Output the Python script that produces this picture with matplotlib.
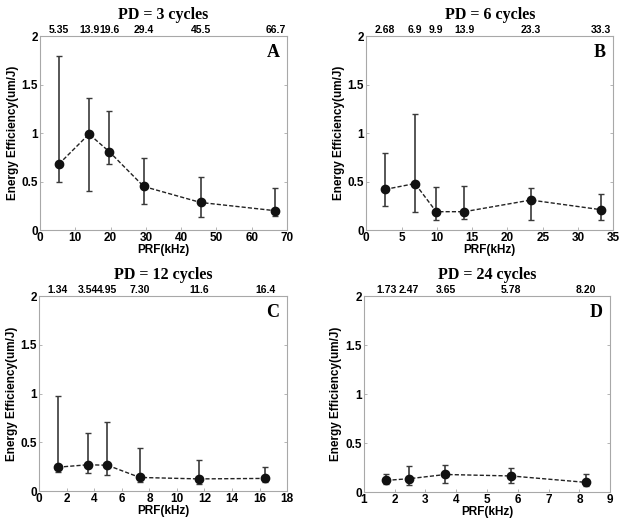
import matplotlib
matplotlib.use("Agg")
import matplotlib.pyplot as plt

# --- Data ---
titles = ["PD = 3 cycles", "PD = 6 cycles", "PD = 12 cycles", "PD = 24 cycles"]
letters = ["A", "B", "C", "D"]

prf_a = [5.35, 13.9, 19.6, 29.4, 45.5, 66.7]
eff_a = [0.68, 0.99, 0.81, 0.45, 0.285, 0.20]
low_a = [0.50, 0.40, 0.68, 0.27, 0.14, 0.15]
high_a = [1.79, 1.36, 1.23, 0.74, 0.55, 0.43]
top_a = ["5.35", "13.9", "19.6", "29.4", "45.5", "66.7"]

prf_b = [2.68, 6.9, 9.9, 13.9, 23.3, 33.3]
eff_b = [0.42, 0.48, 0.19, 0.19, 0.31, 0.21]
low_b = [0.25, 0.19, 0.10, 0.11, 0.10, 0.10]
high_b = [0.79, 1.20, 0.44, 0.45, 0.43, 0.37]
top_b = ["2.68", "6.9", "9.9", "13.9", "23.3", "33.3"]

prf_c = [1.34, 3.54, 4.95, 7.30, 11.6, 16.4]
eff_c = [0.245, 0.27, 0.265, 0.14, 0.125, 0.13]
low_c = [0.195, 0.19, 0.17, 0.09, 0.07, 0.09]
high_c = [0.97, 0.60, 0.705, 0.44, 0.32, 0.245]
top_c = ["1.34", "3.54", "4.95", "7.30", "11.6", "16.4"]

prf_d = [1.73, 2.47, 3.65, 5.78, 8.20]
eff_d = [0.12, 0.137, 0.18, 0.165, 0.10]
low_d = [0.08, 0.075, 0.095, 0.09, 0.065]
high_d = [0.18, 0.265, 0.275, 0.245, 0.19]
top_d = ["1.73", "2.47", "3.65", "5.78", "8.20"]

xlims = [(0, 70), (0, 35), (0, 18), (1, 9)]
xticks = [range(0, 71, 10), range(0, 36, 5), range(0, 19, 2), range(1, 10)]

# axes boxes in figure fraction: left, bottom, width, height
boxes = [
    [0.064, 0.560, 0.396, 0.371],
    [0.587, 0.560, 0.396, 0.371],
    [0.063, 0.061, 0.397, 0.373],
    [0.583, 0.059, 0.395, 0.375],
]

panels = [
    (prf_a, eff_a, low_a, high_a, top_a),
    (prf_b, eff_b, low_b, high_b, top_b),
    (prf_c, eff_c, low_c, high_c, top_c),
    (prf_d, eff_d, low_d, high_d, top_d),
]

sans = ["Liberation Sans", "DejaVu Sans"]
serif = ["Liberation Serif", "DejaVu Serif"]
spine_col = "#a8a8a8"

fig = plt.figure(figsize=(6.24, 5.23), dpi=100)

for i, (x, y, lo, hi, top_labels) in enumerate(panels):
    ax = fig.add_axes(boxes[i])
    yerr = [[v - l for v, l in zip(y, lo)], [h - v for v, h in zip(y, hi)]]
    ax.errorbar(x, y, yerr=yerr, fmt="none", ecolor="#3a3a3a", elinewidth=1.2,
                capsize=2.5, capthick=1.0, zorder=2)
    ax.plot(x, y, linestyle="--", color="#222222", linewidth=1.0, dashes=(3, 1.5),
            marker="o", markersize=6, markerfacecolor="#111111",
            markeredgecolor="#111111", zorder=3)

    ax.set_xlim(*xlims[i])
    ax.set_ylim(0, 2)
    ax.set_xticks(list(xticks[i]))
    ax.set_yticks([0, 0.5, 1, 1.5, 2])
    ax.set_yticklabels(["0", "0.5", "1", "1.5", "2"])
    ax.tick_params(direction="in", length=2.5, width=0.6, color=spine_col, pad=1.5,
                   labelsize=8.5, right=True)
    for lab in ax.get_xticklabels() + ax.get_yticklabels():
        lab.set_family(sans)
        lab.set_fontweight("bold")
    for sp in ax.spines.values():
        sp.set_color(spine_col)
        sp.set_linewidth(0.8)

    ax.set_xlabel("PRF(kHz)", fontsize=8.5, fontweight="bold", family=sans, labelpad=0)
    ax.set_ylabel("Energy Efficiency(um/J)", fontsize=8.5, fontweight="bold",
                  family=sans, labelpad=2)

    # top axis with the PRF values written out
    top = ax.secondary_xaxis("top")
    top.set_xticks(x)
    top.set_xticklabels(top_labels)
    top.tick_params(length=0, pad=1, labelsize=7.5)
    for lab in top.get_xticklabels():
        lab.set_family(sans)
        lab.set_fontweight("bold")
    top.spines["top"].set_visible(False)

    ax.set_title(titles[i], fontsize=11.5, fontweight="bold", family=serif, pad=12)
    ax.text(0.97, 0.96, letters[i], transform=ax.transAxes, ha="right", va="top",
            fontsize=13, fontweight="bold", family=serif)

fig.savefig("out.png", dpi=100)
